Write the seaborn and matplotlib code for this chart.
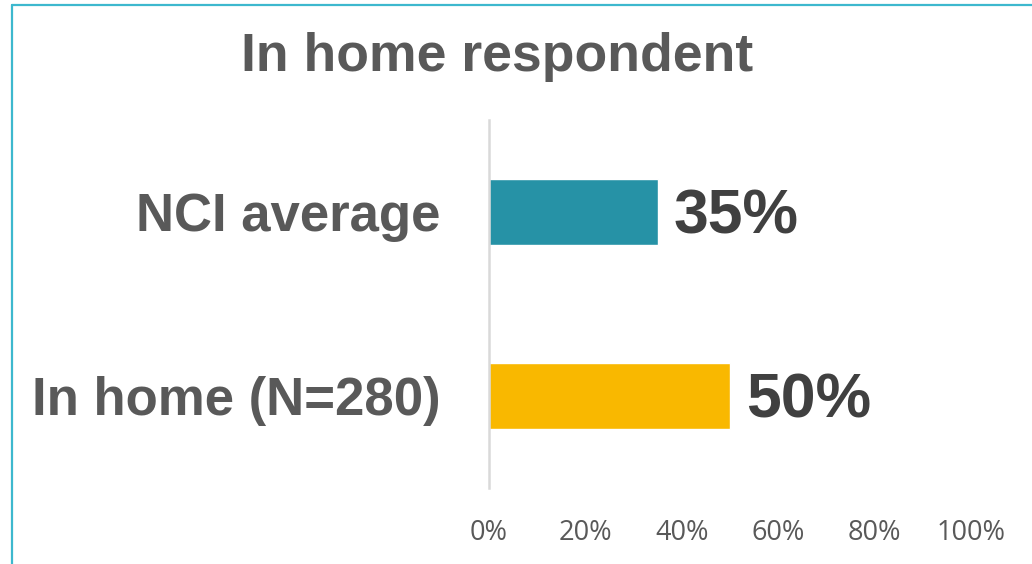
import matplotlib
matplotlib.use("Agg")
import matplotlib.pyplot as plt
import seaborn as sns
import pandas as pd
from matplotlib.lines import Line2D

categories = ["NCI average", "In home (N=280)"]
values = [35, 50]
bar_colors = ["#2692A6", "#F9B800"]
tick_values = [0, 20, 40, 60, 80, 100]
tick_labels = ["0%", "20%", "40%", "60%", "80%", "100%"]
title = "In home respondent"

sns.set_theme(style="white")
plt.rcParams['font.family'] = ['Liberation Sans', 'DejaVu Sans']

df = pd.DataFrame({"category": categories, "value": values})

fig = plt.figure(figsize=(10.32, 5.64), dpi=100)
ax = fig.add_axes([489/1032, 1-488/564, 482/1032, (488-120)/564])

sns.barplot(data=df, x="value", y="category", hue="category",
            palette=bar_colors, width=0.36, ax=ax, legend=False,
            saturation=1, orient="h")

ax.set_xlim(0, 100)
ax.set_ylim(1.5, -0.5)
ax.set_xticks(tick_values)
ax.set_xticklabels(tick_labels, fontsize=19.5, color="#595959", family=['Open Sans', 'DejaVu Sans'])
ax.tick_params(axis='x', length=0, pad=22)
ax.tick_params(axis='y', length=0, pad=35)
for lbl in ax.get_yticklabels():
    lbl.set_fontsize(38)
    lbl.set_fontweight("bold")
    lbl.set_color("#595959")
ax.set_xlabel("")
ax.set_ylabel("")

for s in ["top", "right", "bottom"]:
    ax.spines[s].set_visible(False)
ax.spines["left"].set_color("#D9D9D9")
ax.spines["left"].set_linewidth(1.8)

for i, v in enumerate(values):
    ax.text(v + 3.3, i + 0.025, f"{v}%", va="center", ha="left",
            fontsize=45, fontweight="bold", color="#404040")

fig.text(497/1032, 1-57/564, title, ha="center", va="center",
         fontsize=38.5, fontweight="bold", color="#595959")

# frame border (top and left)
fig.add_artist(Line2D([11.8/1032, 11.8/1032], [0, 1-5/564], color="#3DB8CE", lw=1.6,
                      transform=fig.transFigure))
fig.add_artist(Line2D([11.8/1032, 1], [1-5/564, 1-5/564], color="#3DB8CE", lw=1.6,
                      transform=fig.transFigure))

fig.savefig("out.png", dpi=100)
